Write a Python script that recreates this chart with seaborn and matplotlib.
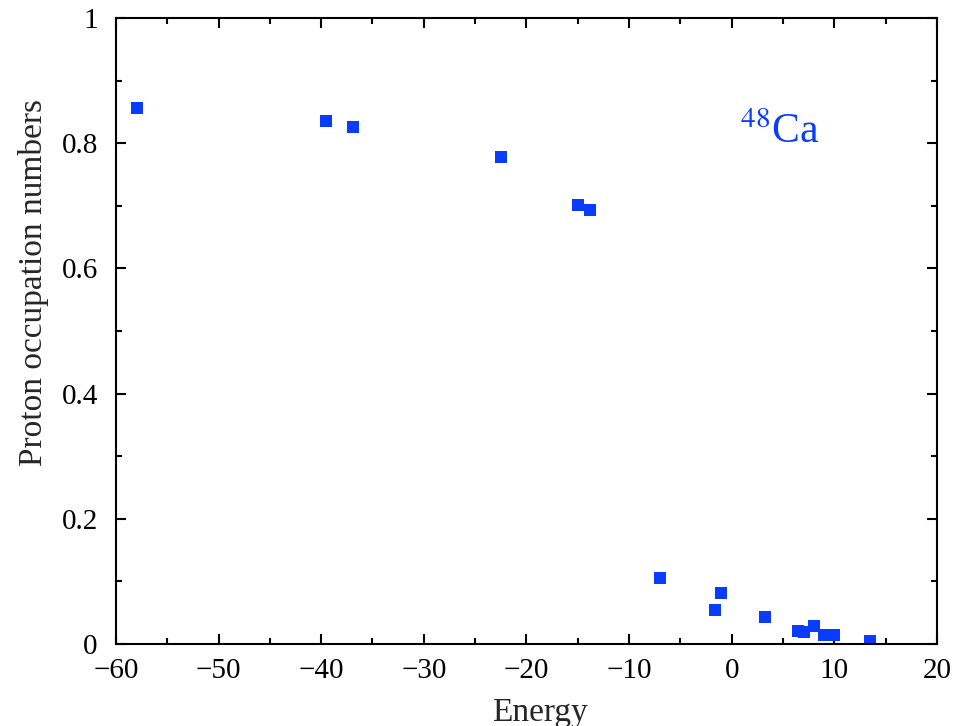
# proton occupation numbers vs single particle energy for 48Ca

import seaborn as sns
import matplotlib
matplotlib.use("Agg")
import matplotlib.pyplot as plt
from matplotlib.ticker import MultipleLocator, FormatStrFormatter
import pandas as pd

energy = [-57.9, -39.5, -36.9, -22.5, -15.0, -13.8, -7.0, -1.0, -1.6,
          3.2, 6.5, 7.0, 8.0, 9.0, 10.0, 13.5]
occupation = [0.856, 0.836, 0.826, 0.778, 0.702, 0.694, 0.105, 0.082, 0.055,
              0.043, 0.021, 0.019, 0.028, 0.015, 0.015, 0.005]

df = pd.DataFrame({'Energy': energy, 'occ': occupation})

sns.set_style("ticks")
plt.rcParams['font.family'] = ['Liberation Serif', 'DejaVu Serif']
plt.rcParams['mathtext.fontset'] = 'stix'

blue = '#0a3cff'

fig = plt.figure(figsize=(9.58, 7.26), dpi=100)
ax = fig.add_axes([0.121, 0.113, 0.857, 0.862])

sns.scatterplot(data=df, x='Energy', y='occ', marker='s', s=70,
                color=blue, linewidth=0, ax=ax)

ax.set_xlim(-60, 20)
ax.set_ylim(0, 1)
ax.xaxis.set_major_locator(MultipleLocator(10))
ax.xaxis.set_minor_locator(MultipleLocator(5))
ax.yaxis.set_major_locator(MultipleLocator(0.2))
ax.yaxis.set_minor_locator(MultipleLocator(0.1))
ax.yaxis.set_major_formatter(FormatStrFormatter('%g'))

ax.tick_params(which='both', direction='in', top=True, right=True,
               labelsize=21, colors='black', width=1.5)
ax.tick_params(which='major', length=7)
ax.tick_params(which='minor', length=4)
ax.tick_params(axis='x', which='major', pad=10)
ax.tick_params(axis='y', which='major', pad=13)
for sp in ax.spines.values():
    sp.set_linewidth(1.5)
    sp.set_color('black')

ax.set_xlabel('Energy', fontsize=24)
ax.set_ylabel('Proton occupation numbers', fontsize=24)
# labels sit a bit off-centre in the original
ax.xaxis.set_label_coords(0.516, -0.085)
ax.yaxis.set_label_coords(-0.081, 0.578)

ax.text(0.808, 0.80, r'$^{48}$Ca', transform=ax.transAxes, fontsize=30,
        color=blue, ha='center', va='baseline')

plt.savefig('out.png', dpi=100)
